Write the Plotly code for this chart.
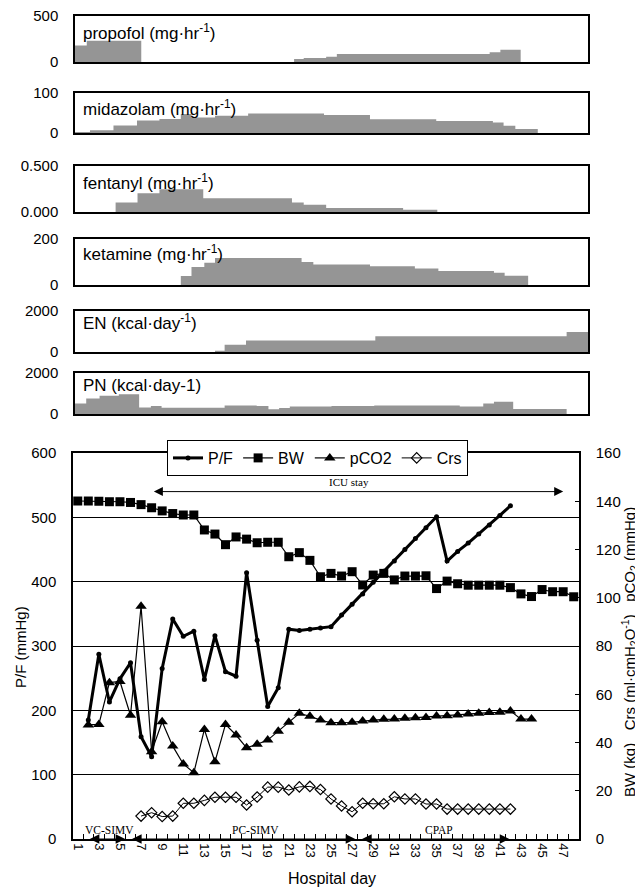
import plotly.graph_objects as go

# page body adds an 8px margin, so the figure is 8px smaller and all pixel positions are shifted
PAGE_W, PAGE_H, OFF = 643, 891, 8
W, H = PAGE_W - OFF, PAGE_H - OFF

# ---------------- data: main chart (hospital days 1..48) ----------------
days = list(range(1, 49))
pf = [None, 185, 287, 213, 249, 274, 159, 128, 265, 342, 315, 323, 248, 316, 260, 253,
      414, 309, 206, 235, 326, 324, 326, 328, 330, 348, 365, 381, 399, 416, 432, 450,
      467, 484, 501, 432, 447, 460, 474, 488, 503, 518] + [None] * 6
bw = [140.1, 140.1, 140.0, 139.8, 139.8, 139.5, 138.6, 137.3, 136.0, 134.9, 134.3, 134.3,
      128.1, 126.4, 122.0, 125.2, 124.3, 122.8, 123.0, 123.0, 117.0, 118.7, 115.5, 108.7,
      110.1, 109.0, 110.8, 105.3, 109.4, 110.1, 107.4, 109.0, 109.0, 109.1, 103.8, 106.9,
      105.8, 105.2, 105.2, 105.2, 105.2, 104.2, 101.6, 100.5, 103.4, 102.5, 102.5, 100.4]
pco2 = [None, 47.3, 47.5, 64.8, 65.3, 51.3, 96.5, 36.2, 48.6, 38.5, 31.1, 27.5,
        45.4, 32.0, 47.5, 43.1, 37.8, 39.3, 41.0, 44.7, 48.4, 52.1, 50.9, 49.3,
        48.2, 48.2, 48.4, 48.9, 49.3, 49.6, 49.7, 50.0, 50.3, 50.4, 51.0, 51.1,
        51.4, 51.8, 52.1, 52.4, 52.5, 53.1, 49.7, 49.7] + [None] * 4
crs = [None] * 6 + [9.5, 10.9, 9.3, 9.5, 14.8, 14.8,
                    16.0, 17.3, 17.3, 17.3, 14.1, 17.4, 21.5, 21.5, 20.3, 21.6, 21.8, 20.5,
                    16.6, 13.7, 11.3, 14.8, 14.6, 14.6, 17.5, 16.6, 16.6, 14.5, 14.5, 12.4,
                    12.4, 12.4, 12.4, 12.4, 12.4, 12.4] + [None] * 6
x_tick_days = list(range(1, 48, 2))

# ventilation modes and ICU stay
mode_names = ["VC-SIMV", "PC-SIMV", "CPAP"]
mode_start = [2.0, 6.0, 27.8]
mode_end = [5.5, 27.3, 41.9]
mode_label_day = [4.0, 17.8, 35.2]
icu_start, icu_end, icu_level = 8.07, 47.0, 540

# ---------------- data: upper panels (step breakpoints in days) ----------------
propofol_days = [0, 1.1, 6.2, 20.5, 21.4, 23.5, 24.5, 38.8, 39.8, 41.7, 48]
propofol_vals = [179, 232, 0, 32, 43, 57, 86, 107, 132, 0]
midazolam_days = [0, 1.4, 3.6, 5.8, 7.9, 9.9, 10.9, 13.1, 16.2, 23.3, 27.6, 33.8, 39.1,
                  40.1, 41.2, 43.3, 48]
midazolam_vals = [2.5, 6.6, 19, 31, 35, 47.5, 39, 43.4, 49, 45, 34.4, 30, 26, 18, 9.8, 0]
fentanyl_days = [0, 3.8, 5.85, 7.9, 12.0, 20.3, 21.4, 23.5, 30.7, 33.9, 48]
fentanyl_vals = [0, 0.104, 0.204, 0.246, 0.150, 0.104, 0.079, 0.043, 0.025, 0]
ketamine_days = [0, 9.9, 10.9, 12.1, 13.1, 21.2, 22.3, 27.6, 31.8, 34.0, 39.2, 40.2, 42.4, 48]
ketamine_vals = [0, 38.6, 78.6, 97, 117, 100, 88.6, 81.4, 71.4, 61.4, 52.9, 40, 0]
en_days = [0, 13.1, 14.0, 16.0, 28.1, 46.0, 48]
en_vals = [0, 64, 352, 560, 768, 976]
pn_days = [0, 1.05, 2.3, 4.1, 6.0, 7.1, 8.1, 14.0, 17.0, 18.1, 19.1, 20.1, 24, 28, 36.0,
           38.2, 39.2, 41.0, 46.0, 48]
pn_vals = [516, 758, 887, 968, 323, 387, 306, 419, 387, 226, 290, 360, 395, 420, 371,
           516, 597, 242, 0]

panel_labels = ["propofol (mg·hr<sup>-1</sup>)", "midazolam (mg·hr<sup>-1</sup>)",
                "fentanyl (mg·hr<sup>-1</sup>)", "ketamine (mg·hr<sup>-1</sup>)",
                "EN (kcal·day<sup>-1</sup>)", "PN (kcal·day-1)"]
panel_max = [500, 100, 0.5, 200, 2000, 2000]
panel_ticktext = [["0", "500"], ["0", "100"], ["0.000", "0.500"], ["0", "200"],
                  ["0", "2000"], ["0", "2000"]]
panel_days = [propofol_days, midazolam_days, fentanyl_days, ketamine_days, en_days, pn_days]
panel_vals = [propofol_vals, midazolam_vals, fentanyl_vals, ketamine_vals, en_vals, pn_vals]

# ---------------- layout geometry (page pixels) ----------------
panel_box_y = [(16, 62), (93, 133), (166, 212), (239, 285), (311, 352), (373, 414)]
panel_label_y = [32, 108, 182, 253, 322, 385]
panel_x = (75, 588)
main_x = (73, 579)
main_y = (453, 839)

FONT = "Liberation Sans, Arial, sans-serif"
SERIF = "Liberation Serif, Times New Roman, serif"
GRAY = "#959595"


def fx(px):
    return (px - OFF) / W


def fy(py):
    return 1 - (py - OFF) / H


def note(x, y, text, **kw):
    d = dict(xref="paper", yref="paper", x=fx(x), y=fy(y), text=text, showarrow=False,
             xanchor="center", yanchor="middle")
    d.update(kw)
    return d


fig = go.Figure()
layout = dict(width=W, height=H, margin=dict(l=0, r=0, t=0, b=0, autoexpand=False),
              paper_bgcolor="white", plot_bgcolor="white",
              font=dict(family=FONT, color="black", size=15), annotations=[])

for i in range(6):
    n = i + 1
    xs = panel_days[i]
    ys = panel_vals[i] + [panel_vals[i][-1]]
    fig.add_trace(go.Scatter(x=xs, y=ys, mode="lines", line=dict(width=0, shape="hv", color=GRAY),
                             fill="tozeroy", fillcolor=GRAY, showlegend=False, hoverinfo="skip",
                             xaxis=f"x{n}", yaxis=f"y{n}"))
    y0, y1 = panel_box_y[i]
    layout[f"xaxis{n}"] = dict(domain=[fx(panel_x[0]), fx(panel_x[1])], range=[0, 48],
                               anchor=f"y{n}", showline=True, mirror=True, linecolor="black",
                               linewidth=1.5, showgrid=False, zeroline=False,
                               showticklabels=False, ticks="")
    layout[f"yaxis{n}"] = dict(domain=[fy(y1), fy(y0)], range=[0, panel_max[i]],
                               anchor=f"x{n}", showline=True, mirror=True, linecolor="black",
                               linewidth=1.5, showgrid=False, zeroline=False,
                               tickvals=[0, panel_max[i]], ticktext=panel_ticktext[i],
                               ticks="", ticklabelstandoff=12, ticklabeloverflow="allow",
                               tickfont=dict(size=15, family=FONT))
    layout["annotations"].append(note(81, panel_label_y[i], panel_labels[i], xanchor="left",
                                      font=dict(size=17, family=FONT)))

# ---------------- main chart ----------------
fig.add_trace(go.Scatter(x=days, y=pf, name="P/F", mode="lines+markers",
                         line=dict(color="black", width=3),
                         marker=dict(symbol="circle", size=5, color="black"),
                         xaxis="x7", yaxis="y7"))
fig.add_trace(go.Scatter(x=days, y=bw, name="BW", mode="lines+markers",
                         line=dict(color="black", width=1.2),
                         marker=dict(symbol="square", size=9, color="black"),
                         xaxis="x7", yaxis="y8"))
fig.add_trace(go.Scatter(x=days, y=pco2, name="pCO2", mode="lines+markers",
                         line=dict(color="black", width=1.2),
                         marker=dict(symbol="triangle-up", size=10, color="black"),
                         xaxis="x7", yaxis="y8"))
fig.add_trace(go.Scatter(x=days, y=crs, name="Crs", mode="lines+markers",
                         line=dict(color="black", width=1),
                         marker=dict(symbol="diamond-open", size=8, color="black",
                                     line=dict(width=1.2)),
                         xaxis="x7", yaxis="y8"))

layout["xaxis7"] = dict(domain=[fx(main_x[0]), fx(main_x[1])], range=[0.55, 48.5], anchor="y7",
                        tickvals=x_tick_days, ticktext=[str(d) for d in x_tick_days],
                        tickangle=90, tickfont=dict(size=13), ticks="",
                        ticklabeloverflow="allow",
                        minor=dict(tickmode="linear", tick0=0.5, dtick=1, ticks="inside",
                                   ticklen=5, tickcolor="black", tickwidth=1),
                        showline=True, mirror=True, linecolor="black", linewidth=1.5,
                        showgrid=False, zeroline=False)
layout["yaxis7"] = dict(domain=[fy(main_y[1]), fy(main_y[0])], range=[0, 600], anchor="x7",
                        tickvals=[0, 100, 200, 300, 400, 500, 600], showgrid=True,
                        gridcolor="black", gridwidth=1, showline=True, linecolor="black",
                        linewidth=1.5, zeroline=False, ticks="", ticklabelstandoff=12,
                        ticklabeloverflow="allow", tickfont=dict(size=15))
layout["yaxis8"] = dict(overlaying="y7", side="right", anchor="x7", range=[0, 160], dtick=20,
                        tickmode="linear", tick0=0, ticks="inside", ticklen=4,
                        tickcolor="black", showline=True, linecolor="black", linewidth=1.5,
                        showgrid=False, zeroline=False, ticklabelstandoff=12,
                        ticklabeloverflow="allow", tickfont=dict(size=15))

layout["legend"] = dict(orientation="h", x=fx(167), y=fy(440), xanchor="left", yanchor="top",
                        bgcolor="white", bordercolor="black", borderwidth=1,
                        font=dict(size=16, family=FONT), itemwidth=30,
                        tracegroupgap=0)

# ICU stay arrow
layout["annotations"].append(dict(xref="x7", yref="y7", x=icu_end, y=icu_level, ax=icu_start,
                                  ay=icu_level, axref="x7", ayref="y7", text="", showarrow=True,
                                  arrowside="end+start", arrowhead=2, arrowsize=1.8,
                                  arrowwidth=1, arrowcolor="black"))
layout["annotations"].append(note(349, 482, "ICU stay", font=dict(family=SERIF, size=11)))

# ventilation mode arrows and labels
for name, s, e, c in zip(mode_names, mode_start, mode_end, mode_label_day):
    layout["annotations"].append(dict(xref="x7", yref="y7", x=e, y=0, ax=s, ay=0, axref="x7",
                                      ayref="y7", text="", showarrow=True,
                                      arrowside="end+start", arrowhead=2, arrowsize=1.6,
                                      arrowwidth=1.2, arrowcolor="black"))
    layout["annotations"].append(dict(xref="x7", yref="paper", x=c, y=fy(830), text=name,
                                      showarrow=False, xanchor="center", yanchor="middle",
                                      font=dict(family=SERIF, size=11.5)))

# axis titles
layout["annotations"].append(note(332, 878, "Hospital day", font=dict(size=16)))
layout["annotations"].append(note(20, 647, "P/F (mmHg)", textangle=-90, font=dict(size=15)))
layout["annotations"].append(note(629, 652,
                                  "BW (kg)   Crs (ml·cmH<sub>2</sub>O<sup>-1</sup>)   pCO<sub>2</sub> (mmHg)",
                                  textangle=-90, font=dict(size=15)))

fig.update_layout(**layout)
fig.write_html("out.html")
